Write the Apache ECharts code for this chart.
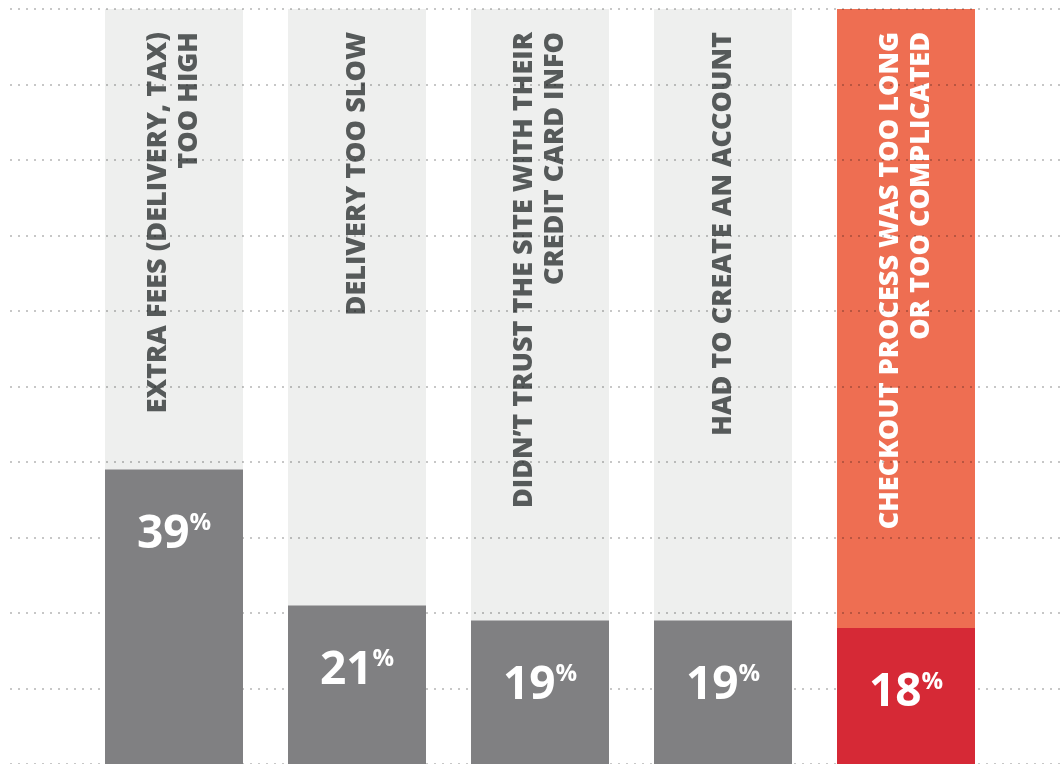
<!DOCTYPE html>
<html>
<head>
<meta charset="utf-8">
<style>
  html, body { margin: 0; padding: 0; background: #ffffff; }
  #chart { width: 1062px; height: 764px; }
</style>
<script src="https://cdn.jsdelivr.net/npm/echarts@6/dist/echarts.min.js"></script>
</head>
<body>
<div id="chart"></div>
<script>
// ---- data ----
const categories = [
  'EXTRA FEES (DELIVERY, TAX)\nTOO HIGH',
  'DELIVERY TOO SLOW',
  'DIDN\u2019T TRUST THE SITE WITH THEIR\nCREDIT CARD INFO',
  'HAD TO CREATE AN ACCOUNT',
  'CHECKOUT PROCESS WAS TOO LONG\nOR TOO COMPLICATED'
];
const values = [39, 21, 19, 19, 18];
const fullValues = [100, 100, 100, 100, 100];
const highlightIndex = 4;
const yTicks = [0, 10, 20, 30, 40, 50, 60, 70, 80, 90, 100];

// ---- styles ----
const FONT = '"Open Sans", "Noto Sans", sans-serif';
const bgColor = '#eeefee', bgHi = '#ee6e52';
const fgColor = '#808082', fgHi = '#d62936';
const catText = '#565a5a', catTextHi = '#ffffff';

const chart = echarts.init(document.getElementById('chart'), null, { renderer: 'canvas' });

const bgData = fullValues.map((v, i) => ({
  value: v,
  itemStyle: { color: i === highlightIndex ? bgHi : bgColor },
  label: { color: i === highlightIndex ? catTextHi : catText }
}));
const fgData = values.map((v, i) => ({
  value: v,
  itemStyle: { color: i === highlightIndex ? fgHi : fgColor }
}));

chart.setOption({
  animation: false,
  grid: [
    { left: 10, right: 0, top: 9, bottom: 0 },
    { left: 82.5, right: 64.5, top: 9, bottom: 0 }
  ],
  xAxis: [
    { gridIndex: 0, type: 'value', show: false, min: 0, max: 1 },
    { gridIndex: 1, type: 'category', data: categories, show: false }
  ],
  yAxis: [
    {
      gridIndex: 0, type: 'value', min: yTicks[0], max: yTicks[yTicks.length - 1], interval: 10,
      z: 3,
      axisLine: { show: false }, axisTick: { show: false }, axisLabel: { show: false },
      splitLine: {
        show: true,
        lineStyle: { color: 'rgba(0,0,0,0.22)', width: 2, type: [2, 6], cap: 'butt' }
      }
    },
    {
      gridIndex: 1, type: 'value', min: 0, max: 100, show: false, splitLine: { show: false }
    }
  ],
  series: [
    {
      type: 'bar', xAxisIndex: 1, yAxisIndex: 1, z: 1,
      barWidth: 138, barGap: '-100%',
      data: bgData,
      label: {
        show: true, position: 'insideTop', distance: 23,
        rotate: 90, align: 'right', verticalAlign: 'middle',
        formatter: p => p.name,
        fontFamily: FONT, fontWeight: 800, fontSize: 27, lineHeight: 31
      },
      silent: true
    },
    {
      type: 'bar', xAxisIndex: 1, yAxisIndex: 1, z: 5,
      barWidth: 138, barGap: '-100%',
      data: fgData,
      label: {
        show: true, position: 'insideTop', distance: 42,
        formatter: p => '{n|' + p.value + '}{p|%}',
        rich: {
          n: { fontFamily: FONT, fontWeight: 700, fontSize: 46, color: '#ffffff', lineHeight: 46 },
          p: { fontFamily: FONT, fontWeight: 700, fontSize: 24, color: '#ffffff', lineHeight: 46, verticalAlign: 'top', padding: [0, 0, 18, 0] }
        }
      },
      silent: true
    }
  ]
});
</script>
</body>
</html>
